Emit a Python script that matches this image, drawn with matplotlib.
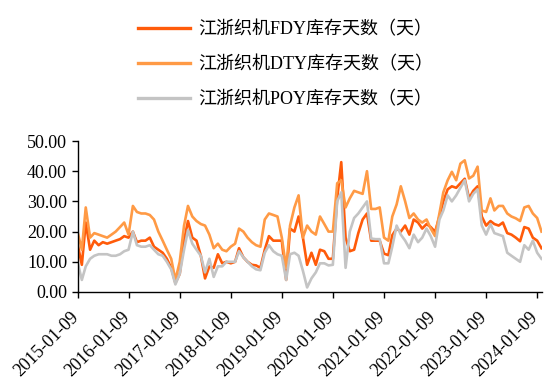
import matplotlib
matplotlib.use("Agg")
import matplotlib.pyplot as plt
import matplotlib.dates as mdates
import matplotlib.transforms as mtransforms
import pandas as pd

plt.rcParams['font.family'] = ['Liberation Serif', 'Noto Sans CJK SC']
plt.rcParams['axes.unicode_minus'] = False

# 月度库存天数（天），2015-01 起
fdy = [16, 9, 23, 14, 17, 15.5, 16.5, 16, 16.5, 17, 17.5, 18.5,
       18, 20, 16.5, 17, 17, 18, 15, 14, 13, 11, 8, 3,
       6, 17, 23.5, 18, 17, 12, 4.5, 8.5, 8, 12.5, 9.5, 10,
       9.5, 10, 14.5, 11.5, 10, 9, 8.8, 8, 14, 18.5, 17, 17,
       17, 4, 21, 20, 25, 18, 9, 13, 9, 14, 13.5, 11,
       11, 31, 43, 18, 13.5, 14, 19.5, 24, 26, 17, 17, 17,
       12.7, 12.2, 18.8, 21, 20, 22, 19, 24, 23, 21, 22.5, 21.5,
       19.9, 25, 30, 34, 35, 34.5, 36, 37.5, 31, 33.5, 35, 25,
       22, 23.5, 22.5, 22, 23, 19.5, 19, 18, 16.8, 21.5, 21, 18,
       17, 14.5]
dty = [20, 14, 28, 18, 19.5, 19, 18.5, 18, 19, 20, 21.5, 23,
       19, 28.5, 26.5, 26, 26, 25.5, 24, 20, 17, 14, 11, 4,
       10, 22, 28.5, 25, 23.5, 22.5, 22, 19, 14.5, 16, 14, 13.5,
       15, 16, 21, 20, 18, 16.5, 15.5, 15, 24, 26, 25.5, 25,
       18, 8, 22, 28, 32, 18, 22, 20, 19, 25, 22.5, 20,
       20, 36, 37, 28, 31, 33.5, 33, 32.5, 40, 27.5, 27.5, 28,
       18, 17, 25, 29, 35, 30, 24.5, 26, 24, 23, 24, 21,
       18.5, 26, 33, 37, 39.8, 37, 42.5, 43.6, 37.6, 38.5, 41.5, 27,
       26.5, 31, 27, 28.5, 28.5, 26, 25, 24.4, 23.5, 28, 28.5, 26,
       24.5, 20]
poy = [10, 4, 8.5, 11, 12, 12.5, 12.5, 12.5, 12, 12, 12.5, 13.5,
       14, 20, 15.5, 15, 15, 15.5, 14, 12.5, 12, 10, 7.5, 2.5,
       6, 14, 20.5, 16, 14, 12, 6.5, 11, 5, 8.5, 8.5, 10,
       10, 10, 13.5, 11.5, 10, 8.5, 7.5, 7.2, 13, 15.5, 13.5, 12.5,
       12, 4, 12.5, 13, 12, 7, 1.5, 4.5, 6.5, 9.5, 9.5, 8.8,
       9, 30, 33, 8, 20, 24.5, 26, 28, 30, 17.7, 17.5, 17.5,
       9.5, 9.5, 15, 22, 19, 17, 14.5, 19, 16.5, 18, 21, 18.5,
       15, 24, 27, 32, 30, 32, 34.5, 37, 30, 32.5, 34, 22,
       19, 22.5, 19.5, 19, 18.5, 13, 12, 11, 10, 15.5, 14, 17,
       13, 11]

dates = pd.date_range('2015-01-09', periods=len(fdy), freq=pd.DateOffset(months=1))
tick_dates = pd.date_range('2015-01-09', periods=10, freq=pd.DateOffset(years=1))

names = ['江浙织机FDY库存天数（天）', '江浙织机DTY库存天数（天）', '江浙织机POY库存天数（天）']
colors = ['#FF5B0A', '#FF9A45', '#C4C4C4']

fig = plt.figure(figsize=(5.47, 3.81), dpi=100)
ax = fig.add_axes([77.5 / 547, 1 - 292 / 381, 464 / 547, 151 / 381])

for vals, name, c in zip([fdy, dty, poy], names, colors):
    ax.plot(dates, vals, color=c, lw=1.9, label=name)

ax.set_ylim(0, 50)
ax.set_yticks(range(0, 51, 10))
ax.yaxis.set_major_formatter(plt.FuncFormatter(lambda v, p: f'{v:.2f}'))
ax.set_xlim(dates[0], dates[-1])
ax.set_xticks(tick_dates)
ax.xaxis.set_major_formatter(mdates.DateFormatter('%Y-%m-%d'))

ax.tick_params(labelsize=13, direction='out', length=4, width=1, color='black')
ax.tick_params(axis='x', pad=14.5)

# 日期标签斜放，末端对齐刻度
shift = mtransforms.ScaledTranslation(1.5 / 100, 0, fig.dpi_scale_trans)
for lab in ax.get_xticklabels():
    lab.set_rotation(45)
    lab.set_ha('right')
    lab.set_va('baseline')
    lab.set_rotation_mode('anchor')
    lab.set_transform(lab.get_transform() + shift)

for s in ['top', 'right']:
    ax.spines[s].set_visible(False)
for s in ['left', 'bottom']:
    ax.spines[s].set_linewidth(1)

fig.legend(loc='upper left', bbox_to_anchor=(138 / 547, 1 - 21 / 381),
           frameon=False, fontsize=13, handlelength=2.9, handletextpad=0.45,
           labelspacing=0.98, borderpad=0, borderaxespad=0)
for line in fig.legends[0].get_lines():
    line.set_linewidth(2.4)

fig.savefig('out.png', dpi=100)
